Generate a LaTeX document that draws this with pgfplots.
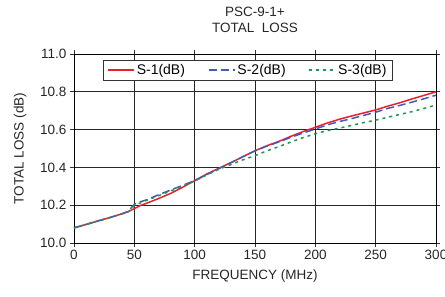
\documentclass[border=0pt]{standalone}
\usepackage{pgfplots}
\pgfplotsset{compat=1.18}
\usepackage{fontspec}
\setmainfont{Liberation Sans}
\definecolor{sred}{RGB}{232,32,40}
\definecolor{sblue}{RGB}{70,90,185}
\definecolor{sgreen}{RGB}{30,150,80}
\begin{document}
\begin{tikzpicture}
\useasboundingbox (-74pt,-54pt) rectangle (371pt,243pt);
\begin{axis}[
  at={(0pt,0pt)}, anchor=south west,
  scale only axis, width=362pt, height=189pt,
  xmin=0, xmax=300, ymin=10.0, ymax=11.0,
  xtick={0,50,...,300}, ytick={10.0,10.2,...,11.0},
  yticklabel style={/pgf/number format/.cd,fixed,fixed zerofill,precision=1},
  /pgf/number format/assume math mode=true,
  grid=major, major grid style={black!85, line width=0.6pt},
  axis line style={black, line width=0.8pt},
  tick align=outside, major tick length=4pt, tick style={black!80, line width=0.6pt},
  ticklabel style={font=\fontsize{13.5}{15}\selectfont, text=black!85},
  label style={font=\fontsize{13.5}{15}\selectfont, text=black!85},
  xlabel={FREQUENCY (MHz)}, ylabel={TOTAL LOSS (dB)},
  xlabel style={at={(axis description cs:0.5,-0.175)}, anchor=center},
  ylabel style={at={(axis description cs:-0.149,0.5)}, anchor=center},
  title={PSC-9-1+\\TOTAL\ \ LOSS},
  title style={at={(axis description cs:0.5,1.148)}, anchor=center, align=center, font=\fontsize{13.5}{16}\selectfont, text=black!85},
  legend columns=3,
  legend style={at={(axis description cs:0.08,0.968)}, anchor=north west,
    draw=black!80, line width=0.6pt, fill=white, font=\fontsize{14}{15}\selectfont,
    /tikz/every even column/.append style={column sep=21pt}, inner ysep=2pt, inner xsep=4pt},
  legend image code/.code={\draw[#1, line width=1.5pt] (0pt,0pt) -- (26pt,0pt);},
]
\addplot[sred, line width=1.5pt] coordinates {
(0,10.08) (10,10.098) (20,10.117) (30,10.135) (40,10.155) (45,10.166) (50,10.182) (55,10.198) (60,10.21) (70,10.235) (80,10.262) (90,10.295) (100,10.33) (110,10.365) (120,10.395) (130,10.425) (140,10.457) (150,10.488) (160,10.515) (170,10.538) (180,10.565) (190,10.59) (200,10.612) (210,10.635) (220,10.655) (230,10.672) (240,10.688) (250,10.704) (260,10.724) (270,10.742) (280,10.762) (290,10.781) (300,10.80)};
\addlegendentry{S-1(dB)}
\addplot[sblue, line width=1.5pt, dash pattern=on 8pt off 4pt] coordinates {
(0,10.08) (10,10.098) (20,10.117) (30,10.135) (40,10.155) (45,10.168) (50,10.205) (55,10.218) (60,10.228) (70,10.255) (80,10.28) (90,10.305) (100,10.33) (110,10.362) (120,10.393) (130,10.425) (140,10.457) (150,10.487) (160,10.513) (170,10.535) (180,10.56) (190,10.582) (200,10.603) (210,10.625) (220,10.643) (230,10.658) (240,10.675) (250,10.692) (260,10.712) (270,10.728) (280,10.745) (290,10.763) (300,10.782)};
\addlegendentry{S-2(dB)}
\addplot[sgreen, line width=1.5pt, dash pattern=on 3pt off 4pt] coordinates {
(0,10.08) (10,10.098) (20,10.117) (30,10.135) (40,10.155) (45,10.165) (50,10.198) (55,10.212) (60,10.225) (70,10.25) (80,10.275) (90,10.3) (100,10.328) (110,10.36) (120,10.39) (130,10.415) (140,10.44) (150,10.462) (160,10.488) (170,10.51) (180,10.535) (190,10.558) (200,10.578) (210,10.595) (220,10.608) (230,10.622) (240,10.637) (250,10.65) (260,10.665) (270,10.68) (280,10.695) (290,10.712) (300,10.73)};
\addlegendentry{S-3(dB)}
\end{axis}
\end{tikzpicture}
\end{document}
